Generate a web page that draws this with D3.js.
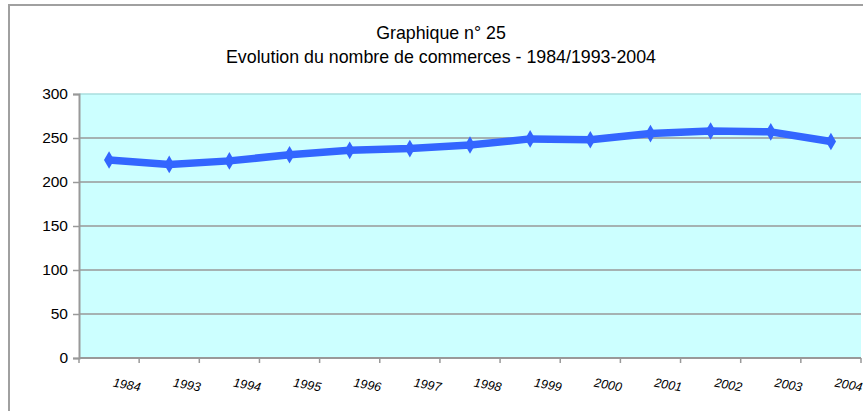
<!DOCTYPE html>
<html>
<head>
<meta charset="utf-8">
<script src="https://cdn.jsdelivr.net/npm/d3@7.9.0/dist/d3.min.js"></script>
<style>
  body { margin: 0; background: #fff; }
  svg { display: block; font-family: "Liberation Sans", Arial, sans-serif; }
</style>
</head>
<body>
<svg id="chart" width="863" height="411"></svg>
<script>
// data
const years = ["1984", "1993", "1994", "1995", "1996", "1997", "1998", "1999", "2000", "2001", "2002", "2003", "2004"];
const commerces = [225, 220, 224, 231, 236, 238, 242, 249, 248, 255, 258, 257, 246];
const yTicks = [0, 50, 100, 150, 200, 250, 300];
const titleLines = ["Graphique n° 25", "Evolution du nombre de commerces - 1984/1993-2004"];

const svg = d3.select("#chart");
const plotLeft = 79, plotRight = 861, plotTop = 94, plotBottom = 358;

// outer frame
svg.append("rect")
    .attr("x", 9).attr("y", 5)
    .attr("width", 870).attr("height", 420)
    .attr("fill", "#fff")
    .attr("stroke", "#a0a0a0")
    .attr("stroke-width", 2);

// titles
svg.selectAll(".title")
    .data(titleLines)
    .join("text")
    .attr("class", "title")
    .attr("x", 441)
    .attr("y", (d, i) => 39 + i * 24)
    .attr("text-anchor", "middle")
    .attr("font-size", 17.8)
    .attr("fill", "#000")
    .text(d => d);

const x = d3.scaleBand().domain(years).range([plotLeft, plotRight]);
const y = d3.scaleLinear().domain([0, 300]).range([plotBottom, plotTop]);

// plot background
svg.append("rect")
    .attr("x", plotLeft).attr("y", plotTop)
    .attr("width", plotRight - plotLeft).attr("height", plotBottom - plotTop)
    .attr("fill", "#ccffff");

// gridlines
svg.append("g")
    .selectAll("line")
    .data(yTicks.filter(d => d > 0))
    .join("line")
    .attr("x1", plotLeft).attr("x2", plotRight)
    .attr("y1", d => y(d)).attr("y2", d => y(d))
    .attr("stroke", d => d === 300 ? "#a8dede" : "#999")
    .attr("stroke-width", 1.5);

// y axis
const yAxis = svg.append("g")
    .attr("transform", `translate(${plotLeft},0)`)
    .call(d3.axisLeft(y).tickValues(yTicks).tickSize(6).tickPadding(5));
yAxis.select(".domain").attr("stroke", "#999").attr("stroke-width", 2);
yAxis.selectAll(".tick line").attr("stroke", "#999").attr("stroke-width", 1.5);
yAxis.selectAll(".tick text")
    .attr("font-size", 15.5)
    .attr("font-family", "Liberation Sans, Arial, sans-serif")
    .attr("fill", "#000");

// x axis: ticks at category boundaries
const xg = svg.append("g");
xg.append("line")
    .attr("x1", plotLeft).attr("x2", plotRight)
    .attr("y1", plotBottom).attr("y2", plotBottom)
    .attr("stroke", "#999").attr("stroke-width", 2);
const bounds = years.map(d => x(d)).concat([x(years[years.length - 1]) + x.bandwidth()]);
xg.selectAll(".xt")
    .data(bounds)
    .join("line")
    .attr("class", "xt")
    .attr("x1", d => d).attr("x2", d => d)
    .attr("y1", plotBottom).attr("y2", plotBottom + 5)
    .attr("stroke", "#999").attr("stroke-width", 1.5);
xg.selectAll(".xl")
    .data(years)
    .join("text")
    .attr("class", "xl")
    .attr("transform", d => `translate(${x(d) + x.bandwidth() / 2 + 17},${plotBottom + 31}) rotate(10)`)
    .attr("text-anchor", "middle")
    .attr("font-size", 12.5)
    .attr("font-style", "italic")
    .attr("fill", "#000")
    .text(d => d);

// series line
const line = d3.line()
    .x((d, i) => x(years[i]) + x.bandwidth() / 2)
    .y(d => y(d));

svg.append("path")
    .datum(commerces)
    .attr("d", line)
    .attr("fill", "none")
    .attr("stroke", "#3366ff")
    .attr("stroke-width", 7.5)
    .attr("stroke-linejoin", "round");

svg.append("g")
    .selectAll("path")
    .data(commerces)
    .join("path")
    .attr("transform", (d, i) => `translate(${x(years[i]) + x.bandwidth() / 2},${y(d)})`)
    .attr("d", d3.symbol(d3.symbolDiamond, 90))
    .attr("fill", "#3366ff");
</script>
</body>
</html>
